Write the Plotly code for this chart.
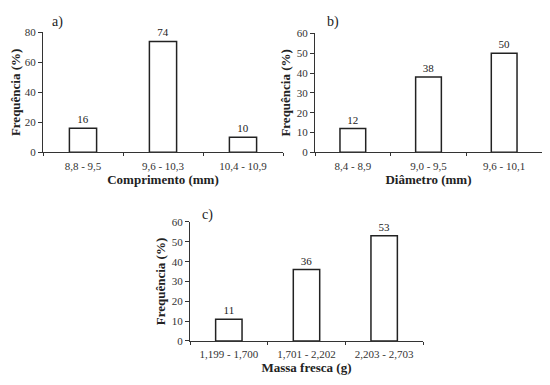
import plotly.graph_objects as go

cat_a = ["8,8 - 9,5", "9,6 - 10,3", "10,4 - 10,9"]
val_a = [16, 74, 10]
cat_b = ["8,4 - 8,9", "9,0 - 9,5", "9,6 - 10,1"]
val_b = [12, 38, 50]
cat_c = ["1,199 - 1,700", "1,701 - 2,202", "2,203 - 2,703"]
val_c = [11, 36, 53]

OFF = 8  # page body margin
W, H = 550 - 2 * OFF, 385 - 2 * OFF - 1
FONT = "Liberation Serif"

def px_x(p):
    return min(1.0, (p - OFF) / W)

def px_y(p):
    return 1 - (p - OFF) / H

fig = go.Figure()
panels = [
    (cat_a, val_a, "x", "y"),
    (cat_b, val_b, "x2", "y2"),
    (cat_c, val_c, "x3", "y3"),
]
for cats, vals, xa, ya in panels:
    fig.add_trace(go.Bar(
        x=cats, y=vals, xaxis=xa, yaxis=ya, width=0.34,
        marker=dict(color="white", line=dict(color="#222", width=1.5)),
        text=vals, textposition="outside", cliponaxis=False,
        textfont=dict(family=FONT, size=11, color="#222"),
        showlegend=False,
    ))

common_x = dict(type="category", showline=True, linecolor="#333", linewidth=1,
                ticks="outside", tickson="boundaries", ticklen=3, tickcolor="#333",
                ticklabelstandoff=3,
                tickfont=dict(family=FONT, size=11, color="#333"), showgrid=False,
                zeroline=False, fixedrange=True)
common_y = dict(showline=True, linecolor="#333", linewidth=1, ticks="outside",
                ticklen=4, tickcolor="#333", showgrid=False, zeroline=False,
                tickfont=dict(family=FONT, size=11, color="#333"))
ytitle = dict(text="<b>Frequência (%)</b>", font=dict(family=FONT, size=13, color="#222"), standoff=3)

def xt(t):
    return dict(text="<b>" + t + "</b>", font=dict(family=FONT, size=13, color="#222"), standoff=1)

fig.update_layout(
    width=W, height=H, margin=dict(l=0, r=0, t=0, b=0),
    plot_bgcolor="white", paper_bgcolor="white", bargap=0.6,
    xaxis=dict(domain=[px_x(43), px_x(283)], anchor="y", title=xt("Comprimento (mm)"), **common_x),
    yaxis=dict(domain=[px_y(151), px_y(27)], anchor="x", range=[0, 80], dtick=20,
               title=ytitle, **common_y),
    xaxis2=dict(domain=[px_x(315), px_x(552)], anchor="y2", title=xt("Diâmetro (mm)"), **common_x),
    yaxis2=dict(domain=[px_y(151), px_y(28)], anchor="x2", range=[0, 60], dtick=10,
                title=ytitle, **common_y),
    xaxis3=dict(domain=[px_x(190), px_x(423)], anchor="y3", title=xt("Massa fresca (g)"), **common_x),
    yaxis3=dict(domain=[px_y(346), px_y(223)], anchor="x3", range=[0, 60], dtick=10,
                title=ytitle, **common_y),
)

for label, x, y in [("a)", 50, 16), ("b)", 325, 16), ("c)", 200, 216)]:
    fig.add_annotation(text=label, x=px_x(x), y=px_y(y), xref="paper", yref="paper",
                       xanchor="left", yanchor="middle", showarrow=False,
                       font=dict(family=FONT, size=14, color="#222"))

fig.write_html("out.html")
